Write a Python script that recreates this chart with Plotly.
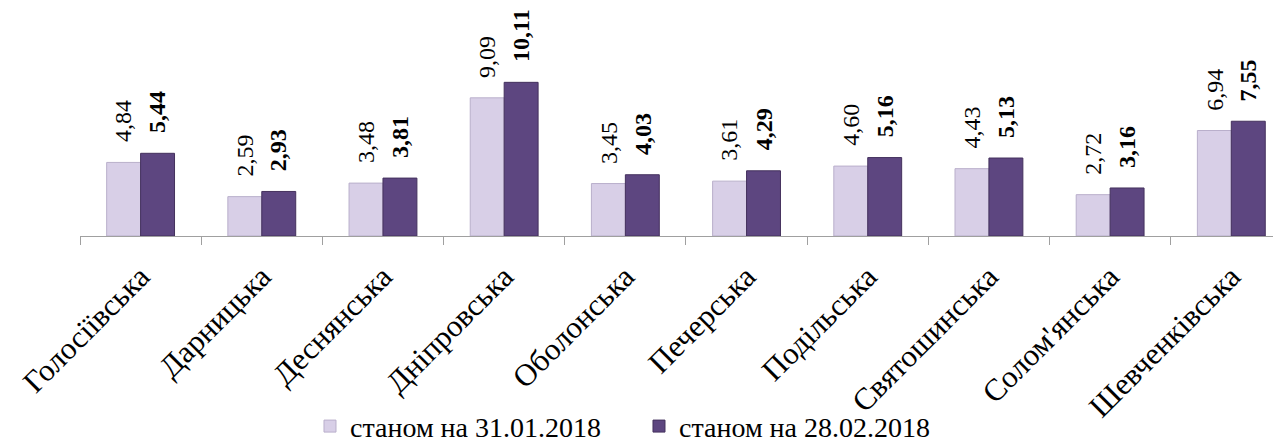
import plotly.graph_objects as go

categories = ["Голосіївська", "Дарницька", "Деснянська", "Дніпровська", "Оболонська",
              "Печерська", "Подільська", "Святошинська", "Солом'янська", "Шевченківська"]
series_names = ["станом на 31.01.2018", "станом на 28.02.2018"]
values_jan = [4.84, 2.59, 3.48, 9.09, 3.45, 3.61, 4.60, 4.43, 2.72, 6.94]
values_feb = [5.44, 2.93, 3.81, 10.11, 4.03, 4.29, 5.16, 5.13, 3.16, 7.55]

FONT = "Liberation Serif"
light = "#d8cfe7"
dark = "#5d4680"

fig = go.Figure()
fig.add_trace(go.Bar(x=categories, y=values_jan, name=series_names[0],
                     marker=dict(color=light, line=dict(color="#b9afcb", width=1))))
fig.add_trace(go.Bar(x=categories, y=values_feb, name=series_names[1],
                     marker=dict(color=dark, line=dict(color="#44315d", width=1))))

def fmt(v):
    return f"{v:.2f}".replace(".", ",")

annotations = []
for c, v in zip(categories, values_jan):
    annotations.append(dict(x=c, y=v, xref="x", yref="y", text=fmt(v), showarrow=False,
                            textangle=-90, xshift=-17, yshift=18, yanchor="bottom",
                            font=dict(family=FONT, size=24, color="black")))
for c, v in zip(categories, values_feb):
    annotations.append(dict(x=c, y=v, xref="x", yref="y", text=f"<b>{fmt(v)}</b>", showarrow=False,
                            textangle=-90, xshift=17, yshift=18, yanchor="bottom",
                            font=dict(family=FONT, size=24, color="black")))

fig.update_layout(
    width=1273, height=438,
    margin=dict(l=72, r=0, t=0, b=210, autoexpand=False),
    paper_bgcolor="white", plot_bgcolor="white",
    barmode="group", bargap=0.44, bargroupgap=0,
    font=dict(family=FONT, size=28, color="black"),
    annotations=annotations,
    showlegend=True,
    legend=dict(orientation="h", x=0.1915, xanchor="left", y=-0.835, yanchor="middle",
                font=dict(family=FONT, size=28), itemwidth=30, tracegroupgap=0,
                entrywidth=284, bgcolor="rgba(0,0,0,0)"),
)
fig.update_xaxes(range=[-0.5, 9.41], showline=True, linecolor="#a0a0a0", linewidth=1,
                 ticks="outside", tickson="boundaries", ticklen=8, tickcolor="#a0a0a0",
                 tickangle=-45, ticklabelstandoff=9, automargin=False,
                 tickfont=dict(family=FONT, size=31), showgrid=False)
fig.update_yaxes(range=[0, 15.0], visible=False, showgrid=False, automargin=False)

fig.write_html("out.html")
